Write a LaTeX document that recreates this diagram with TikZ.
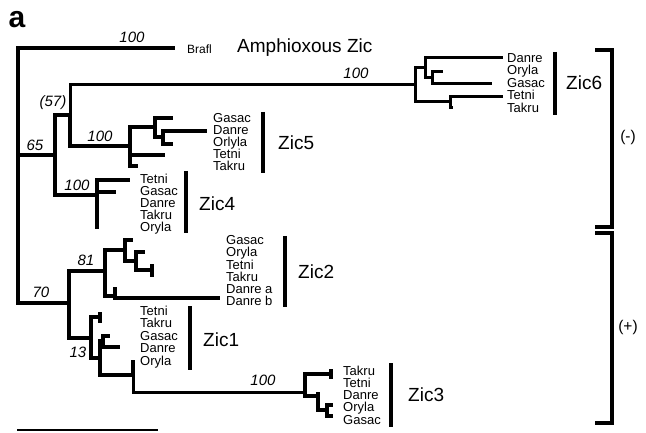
\documentclass[tikz,border=0pt]{standalone}
\usepackage{fontspec}
\setmainfont{Liberation Sans}
\tikzset{
  br/.style={line width=3.2pt, line join=miter},
  thinbr/.style={line width=3.0pt, line join=miter},
  bar/.style={line width=3.4pt},
  brk/.style={line width=3.4pt, line join=miter},
  lab/.style={inner sep=0pt, anchor=west, align=left, font=\fontsize{13}{12}\selectfont},
  zic/.style={inner sep=0pt, anchor=west, font=\fontsize{19}{20}\selectfont},
  boot/.style={inner sep=0pt, font=\fontsize{15}{15}\selectfont\itshape},
  sgn/.style={inner sep=0pt, font=\fontsize{15.5}{15}\selectfont},
}
\begin{document}
\begin{tikzpicture}[x=1pt,y=-1pt]
\useasboundingbox (0,0) rectangle (646,433);
% panel letter
\node[inner sep=0pt, font=\fontsize{30}{30}\selectfont\bfseries] (pa) at (17,20) {a};
% ---------- coordinates of tree nodes ----------
\coordinate (R) at (18,175);
\coordinate (B) at (175,48);
\coordinate (U) at (55,155);
\coordinate (N57) at (70,115);
\coordinate (N4) at (97,195);
\coordinate (Z6) at (415,85);
\coordinate (z6a) at (425,68);
\coordinate (z6b) at (450,102);
\coordinate (z6c) at (432,78);
\coordinate (t6a) at (503,58);
\coordinate (t6b) at (443,72);
\coordinate (t6c) at (492,84);
\coordinate (t6d) at (503,97);
\coordinate (t6e) at (453,108);
\coordinate (N5) at (130,146);
\coordinate (n5a) at (155,127);
\coordinate (n5b) at (163,137);
\coordinate (t5a) at (173,118);
\coordinate (t5b) at (207,131);
\coordinate (t5c) at (173,144);
\coordinate (t5d) at (165,155);
\coordinate (t5e) at (138,166);
\coordinate (t4a) at (130,180);
\coordinate (t4b) at (116,192);
\coordinate (t4c) at (97,229);
\coordinate (L) at (69,303);
\coordinate (N81) at (105,271);
\coordinate (N13) at (91,338);
\coordinate (n2a) at (125,250);
\coordinate (n2b) at (115,296);
\coordinate (n2c) at (136,261);
\coordinate (n2d) at (152,270);
\coordinate (t2a) at (133,240);
\coordinate (t2b) at (145,252);
\coordinate (t2c) at (152,264);
\coordinate (t2d) at (152,277);
\coordinate (t2e) at (115,287);
\coordinate (t2f) at (220,298);
\coordinate (n1a) at (100,317);
\coordinate (n1b) at (100,358);
\coordinate (n1c) at (103,341);
\coordinate (n1d) at (133,375);
\coordinate (t1a) at (100,312);
\coordinate (t1b) at (100,323);
\coordinate (t1c) at (110,336);
\coordinate (t1d) at (120,347);
\coordinate (t1e) at (133,360);
\coordinate (Z3) at (305,392);
\coordinate (z3a) at (331,374);
\coordinate (z3b) at (318,396);
\coordinate (z3c) at (327,410);
\coordinate (t3a) at (331,369);
\coordinate (t3b) at (331,379);
\coordinate (t3c) at (318,392);
\coordinate (t3d) at (333,405);
\coordinate (t3e) at (333,416);
% ---------- branches ----------
\draw[br] (R) |- (B) (R) |- (U) (R) |- (L);
\draw[br] (U) |- (N57) (U) |- (N4);
\draw[thinbr] (N57) |- (Z6);
\draw[br] (N57) |- (N5);
\draw[thinbr] (Z6) |- (z6a) (Z6) |- (z6b);
\draw[thinbr] (z6a) |- (t6a) (z6a) |- (z6c);
\draw[thinbr] (z6c) |- (t6b) (z6c) |- (t6c);
\draw[thinbr] (z6b) |- (t6d) (z6b) |- (t6e);
\draw[br] (N5) |- (n5a) (N5) |- (t5d) (N5) |- (t5e);
\draw[br] (n5a) |- (t5a) (n5a) |- (n5b);
\draw[br] (n5b) |- (t5b) (n5b) |- (t5c);
\draw[br] (N4) |- (t4a) (N4) |- (t4b) (N4) -- (t4c);
\draw[br] (L) |- (N81) (L) |- (N13);
\draw[br] (N81) |- (n2a) (N81) |- (n2b);
\draw[br] (n2a) |- (t2a) (n2a) |- (n2c);
\draw[br] (n2c) |- (t2b) (n2c) |- (n2d);
\draw[br] (n2d) -- (t2c) (n2d) -- (t2d);
\draw[br] (n2b) -- (t2e) (n2b) |- (t2f);
\draw[br] (N13) |- (n1a) (N13) |- (n1b);
\draw[br] (n1a) -- (t1a) (n1a) -- (t1b);
\draw[br] (n1b) |- (n1c) (n1b) |- (n1d);
\draw[br] (n1c) |- (t1c) (n1c) |- (t1d);
\draw[br] (n1d) -- (t1e);
\draw[thinbr] (n1d) |- (Z3);
\draw[br] (Z3) |- (z3a) (Z3) |- (z3b);
\draw[br] (z3a) -- (t3a) (z3a) -- (t3b);
\draw[br] (z3b) -- (t3c) (z3b) |- (z3c);
\draw[br] (z3c) |- (t3d) (z3c) |- (t3e);
% ---------- bootstrap values ----------
\node[boot] (b1) at (132,37) {100};
\node[boot] (b2) at (53,103) {(57)};
\node[boot] (b3) at (35,145) {65};
\node[boot] (b4) at (100,136) {100};
\node[boot] (b5) at (77,185) {100};
\node[boot] (b6) at (356,73) {100};
\node[boot] (b7) at (86,260) {81};
\node[boot] (b8) at (41,292) {70};
\node[boot] (b9) at (78,352) {13};
\node[boot] (b10) at (263,380) {100};
% ---------- taxon labels ----------
\node[lab, font=\fontsize{12}{12}\selectfont] (lbr) at (187,49) {Brafl};
\node[zic] (amph) at (237,48) {Amphioxous Zic};
\node[lab, font=\fontsize{13}{12.5}\selectfont] (l6) at (507,83) {Danre\\Oryla\\Gasac\\Tetni\\Takru};
\node[lab, font=\fontsize{13}{12.2}\selectfont] (l5) at (213,142) {Gasac\\Danre\\Orlyla\\Tetni\\Takru};
\node[lab] (l4) at (140,204) {Tetni\\Gasac\\Danre\\Takru\\Oryla};
\node[lab, font=\fontsize{13}{11.8}\selectfont] (l2) at (226,270.5) {Gasac\\Oryla\\Tetni\\Takru\\Danre a\\Danre b};
\node[lab, font=\fontsize{13}{12.4}\selectfont] (l1) at (140,337) {Tetni\\Takru\\Gasac\\Danre\\Oryla};
\node[lab, font=\fontsize{13}{12.2}\selectfont] (l3) at (343,395) {Takru\\Tetni\\Danre\\Oryla\\Gasac};
% ---------- group bars ----------
\coordinate (b6t) at (555,52); \coordinate (b6b) at (555,115);
\coordinate (b5t) at (263,112); \coordinate (b5b) at (263,173);
\coordinate (b4t) at (186,171); \coordinate (b4b) at (186,233);
\coordinate (b2t) at (285,236); \coordinate (b2b) at (285,307);
\coordinate (b1t) at (190,306); \coordinate (b1b) at (190,370);
\coordinate (b3t) at (391,363); \coordinate (b3b) at (391,427);
\draw[bar] (b6t) -- (b6b) (b5t) -- (b5b) (b4t) -- (b4b)
           (b2t) -- (b2b) (b1t) -- (b1b) (b3t) -- (b3b);
\node[zic] (zic6) at (566,83) {Zic6};
\node[zic] (zic5) at (278,143) {Zic5};
\node[zic] (zic4) at (199,204) {Zic4};
\node[zic] (zic2) at (298,272) {Zic2};
\node[zic] (zic1) at (203,340) {Zic1};
\node[zic] (zic3) at (408,395) {Zic3};
% ---------- brackets ----------
\coordinate (m1) at (595,50); \coordinate (m2) at (612,50);
\coordinate (m3) at (612,227); \coordinate (m4) at (595,227);
\coordinate (p1) at (595,233); \coordinate (p2) at (612,233);
\coordinate (p3) at (612,423); \coordinate (p4) at (595,423);
\draw[brk] (m1) -- (m2) -- (m3) -- (m4);
\draw[brk] (p1) -- (p2) -- (p3) -- (p4);
\node[sgn] (minus) at (628,137) {(-)};
\node[sgn] (plus) at (628,327) {(+)};
% ---------- scale bar ----------
\coordinate (s1) at (17,430); \coordinate (s2) at (158,430);
\draw[line width=2.4pt] (s1) -- (s2);
\end{tikzpicture}
\end{document}
